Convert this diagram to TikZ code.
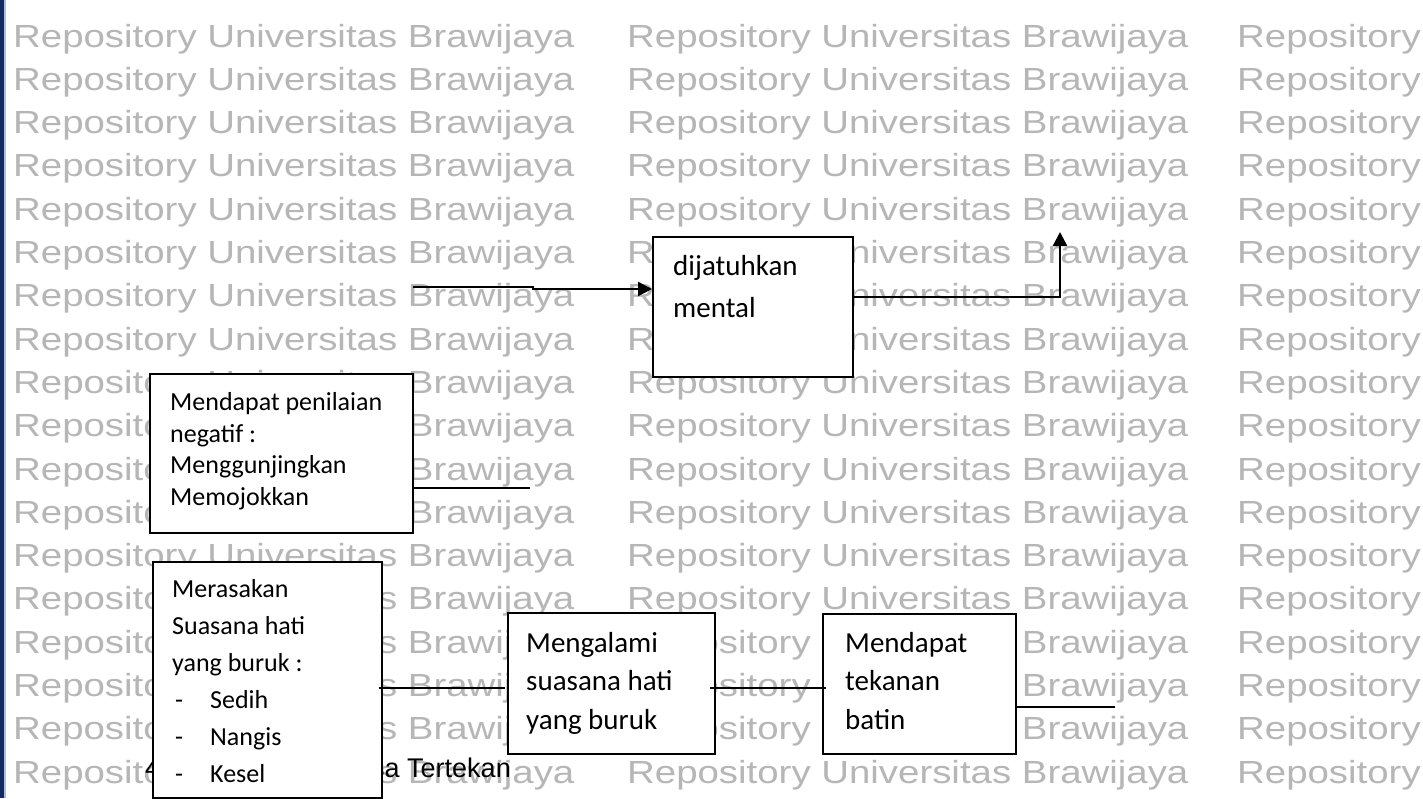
\documentclass[tikz,border=0pt]{standalone}
\usepackage{fontspec}
\setmainfont{Carlito}
\newfontfamily\wmfont[FakeStretch=1.2]{Liberation Sans}
\newfontfamily\capfont{Liberation Sans}
\usetikzlibrary{arrows.meta}
\definecolor{wmgray}{RGB}{182,182,182}
\definecolor{navyedge}{RGB}{22,42,98}
\definecolor{lightedge}{RGB}{170,190,222}
\tikzset{
  wm/.style={font=\wmfont\fontsize{32}{32}\selectfont, text=wmgray, inner sep=0pt, anchor=base west},
  capstyle/.style={font=\capfont\fontsize{27}{27}\selectfont, inner sep=0pt},
  box/.style={draw, line width=1.6pt, fill=white, inner sep=0pt, anchor=north west},
  txt/.style={font=\fontsize{26}{31}\selectfont, inner sep=0pt, anchor=base west},
  bigtxt/.style={font=\fontsize{29}{35}\selectfont, inner sep=0pt, anchor=base west},
  thickconn/.style={line width=2.4pt, -{Triangle[length=14pt,width=14pt]}},
  thinconn/.style={line width=1.3pt}
}
\begin{document}
\begin{tikzpicture}[x=1pt,y=-1pt]
\useasboundingbox (0,0) rectangle (1423,798);
\fill[white] (0,0) rectangle (1423,798);
\fill[navyedge] (0,0) rectangle (4,798);
\fill[lightedge] (4,0) rectangle (6,798);
% watermark
\foreach \k in {0,...,17}{
  \foreach \cx/\cn in {13/a,627/b,1237/c}{
    \node[wm] (wm-\k-\cn) at (\cx, 47+43.3*\k) {Repository Universitas Brawijaya};
  }
}
% caption (mostly hidden behind the box)
\node[capstyle, anchor=base west] (cap4) at (145,777) {4};
\node[capstyle, anchor=base west] (capT) at (371,777) {sa Tertekan};
% boxes
\node[box, minimum width=200pt, minimum height=140pt] (dj) at (652,236) {};
\node[box, minimum width=263pt, minimum height=159pt] (mp) at (149,373) {};
\node[box, minimum width=229pt, minimum height=236pt] (mr) at (152,561) {};
\node[box, minimum width=207pt, minimum height=141pt] (ml) at (507,612) {};
\node[box, minimum width=193pt, minimum height=140pt] (mt) at (822,613) {};
% texts
\node[bigtxt] (dj1) at (673,275) {dijatuhkan};
\node[bigtxt] (dj2) at (673,317) {mental};
\node[txt] (mp1) at (170,410) {Mendapat penilaian};
\node[txt] (mp2) at (170,442) {negatif :};
\node[txt] (mp3) at (170,473) {Menggunjingkan};
\node[txt] (mp4) at (170,505) {Memojokkan};
\node[txt] (mr1) at (172,597) {Merasakan};
\node[txt] (mr2) at (172,634) {Suasana hati};
\node[txt] (mr3) at (172,671) {yang buruk :};
\node[txt] (mrd1) at (175,708) {-};
\node[txt] (mrd2) at (175,745) {-};
\node[txt] (mrd3) at (175,782) {-};
\node[txt] (mr4) at (210,708) {Sedih};
\node[txt] (mr5) at (210,745) {Nangis};
\node[txt] (mr6) at (210,782) {Kesel};
\node[bigtxt] (ml1) at (526,652) {Mengalami};
\node[bigtxt] (ml2) at (526,690) {suasana hati};
\node[bigtxt] (ml3) at (526,729) {yang buruk};
\node[bigtxt] (mt1) at (845,652) {Mendapat};
\node[bigtxt] (mt2) at (845,690) {tekanan};
\node[bigtxt] (mt3) at (845,729) {batin};
% connectors
\coordinate (inStart) at (413,287);
\coordinate (jogA) at (533,287);
\coordinate (jogB) at (533,289);
\draw[thickconn] (inStart) -- (jogA) -- (jogB) -- ([yshift=-53pt]dj.north west);
\coordinate (upEnd) at (1060,232);
\draw[thickconn] ([yshift=-61pt]dj.north east) -| (upEnd);
\coordinate (mpEnd) at (530,488);
\draw[thinconn] (mp.east |- mpEnd) -- (mpEnd);
\coordinate (yl) at (0,688);
\draw[thinconn, shorten <=-4pt, shorten >=2pt] (mr.east |- yl) -- (ml.west |- yl);
\draw[thinconn, shorten <=-6pt, shorten >=-4pt] (ml.east |- yl) -- (mt.west |- yl);
\coordinate (mtEnd) at (1115,707);
\draw[thinconn] (mt.east |- mtEnd) -- (mtEnd);
\end{tikzpicture}
\end{document}
